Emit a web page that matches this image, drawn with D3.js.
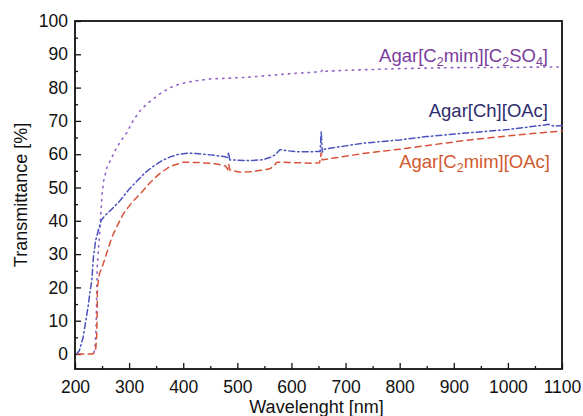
<!DOCTYPE html>
<html>
<head>
<meta charset="utf-8">
<script src="https://cdn.jsdelivr.net/npm/d3@7"></script>
<style>
  html, body { margin: 0; padding: 0; background: #fff; }
  svg { display: block; font-family: "Liberation Sans", Arial, Helvetica, sans-serif; }
</style>
</head>
<body>
<div id="chart"></div>
<script>
// wavelength [nm], transmittance [%]
const c2so4Points = [
  [235, 0.5], [237, 2], [239, 8], [240, 17], [241, 26], [244, 33], [246, 37], [248, 43],
  [250, 48], [253, 52], [259, 56], [268, 59], [277, 62], [287, 64.5], [296, 66.5],
  [307, 70], [320, 73], [332, 75], [344, 76.5], [360, 78.5], [376, 80], [392, 81],
  [407, 81.6], [430, 82.2], [450, 82.6], [480, 82.8], [518, 83.1], [555, 83.6],
  [600, 84.2], [640, 84.6], [655, 84.8], [658, 85.5], [662, 84.9], [700, 85.2],
  [800, 85.7], [900, 86], [1000, 86.1], [1100, 86.2]
];
const chOacPoints = [
  [203, 0], [208, 1], [215, 5], [220, 10], [224, 14], [228, 19], [231, 22], [234, 29],
  [238, 34], [243, 37], [248, 40], [255, 41.5], [268, 43.5], [283, 46], [300, 49.5],
  [315, 52], [330, 54.5], [344, 56.3], [360, 58], [376, 59.2], [392, 60], [407, 60.3],
  [425, 60.2], [450, 59.8], [475, 59.3], [482, 59], [484, 60.5], [486, 58.3],
  [500, 58.2], [523, 58.1], [545, 58.3], [560, 59], [570, 59.8], [579, 61.4],
  [595, 61], [610, 60.7], [653, 60.8], [655, 66.8], [657, 60.5], [660, 61.5],
  [671, 61.8], [700, 62.5], [732, 63.3], [800, 64.3], [850, 65.3], [924, 66.4],
  [1000, 67.4], [1065, 68.7], [1075, 69], [1085, 68.4], [1100, 68.6]
];
const c2mimOacPoints = [
  [205, 0], [233, 0], [238, 1], [240, 5], [241, 12], [241.5, 20], [245, 24], [252, 27],
  [260, 31], [268, 35], [278, 38.5], [289, 42], [305, 45.5], [320, 48], [339, 51.5],
  [355, 54], [375, 56.3], [400, 57.6], [430, 57.5], [460, 57.1], [478, 56.5],
  [482, 55.5], [484, 57], [486, 55.3], [505, 54.6], [523, 54.7], [545, 55.2],
  [560, 55.6], [568, 56.5], [573, 57.6], [600, 57.5], [640, 57.3], [652, 57.4],
  [655, 60.5], [657, 58.3], [700, 59.4], [732, 60.2], [800, 61.5], [860, 62.8],
  [924, 64.2], [1000, 65.5], [1100, 67]
];

const xMajorTicks = d3.range(200, 1101, 100);
const xMinorTicks = d3.range(250, 1100, 100);
const yMajorTicks = d3.range(0, 101, 10);
const yMinorTicks = d3.range(5, 100, 10);

const width = 583, height = 416;
const margin = { top: 21, right: 21, bottom: 47, left: 75 };

const svg = d3.select("#chart").append("svg")
  .attr("width", width)
  .attr("height", height);

const x = d3.scaleLinear().domain([200, 1100]).range([margin.left, width - margin.right]);
const y = d3.scaleLinear().domain([-4.5, 100]).range([height - margin.bottom, margin.top]);

const x0 = x.range()[0], x1 = x.range()[1];
const y0 = y.range()[0], y1 = y.range()[1];

// minor ticks first
svg.append("g")
  .attr("transform", `translate(0,${y0})`)
  .call(d3.axisBottom(x).tickValues(xMinorTicks).tickSize(-3).tickFormat(""))
  .call(g => g.select(".domain").remove());
svg.append("g")
  .attr("transform", `translate(${x0},0)`)
  .call(d3.axisLeft(y).tickValues(yMinorTicks).tickSize(-3).tickFormat(""))
  .call(g => g.select(".domain").remove());

const xAxis = svg.append("g")
  .attr("transform", `translate(0,${y0})`)
  .call(d3.axisBottom(x).tickValues(xMajorTicks).tickSize(-6).tickPadding(12).tickFormat(d3.format("d")))
  .call(g => g.select(".domain").remove());
const yAxis = svg.append("g")
  .attr("transform", `translate(${x0},0)`)
  .call(d3.axisLeft(y).tickValues(yMajorTicks).tickSize(-6).tickPadding(7))
  .call(g => g.select(".domain").remove());

[xAxis, yAxis].forEach(g => {
  g.selectAll("text").attr("fill", "#111").style("font-size", "17.5px");
});
svg.selectAll(".tick line").attr("stroke", "#111").attr("stroke-width", 1.3);

// frame
svg.append("rect")
  .attr("x", x0).attr("y", y1)
  .attr("width", x1 - x0).attr("height", y0 - y1)
  .attr("fill", "none")
  .attr("stroke", "#111")
  .attr("stroke-width", 1.8);

const line = d3.line().x(d => x(d[0])).y(d => y(d[1]));

const series = [
  { pts: c2so4Points, color: "#9262c6", dash: "1.4,5.2", w: 1.6 },
  { pts: chOacPoints, color: "#4a52bd", dash: "6,3,1.5,3", w: 1.5 },
  { pts: c2mimOacPoints, color: "#d9533b", dash: "6,4.5", w: 1.5 }
];

svg.append("g").selectAll("path")
  .data(series)
  .join("path")
  .attr("d", d => line(d.pts))
  .attr("fill", "none")
  .attr("stroke", d => d.color)
  .attr("stroke-width", d => d.w)
  .attr("stroke-dasharray", d => d.dash)
  .attr("stroke-linecap", "round");

// series labels; parts alternate between normal text and subscripts
function label(parts, xEnd, yBase, color) {
  const t = svg.append("text")
    .attr("x", xEnd).attr("y", yBase)
    .attr("text-anchor", "end")
    .attr("fill", color)
    .style("font-size", "18.5px");
  let shifted = 0;
  parts.forEach(p => {
    const target = p.sub ? 4 : 0;
    t.append("tspan")
      .attr("dy", target - shifted)
      .style("font-size", p.sub ? "12.5px" : null)
      .text(p.s);
    shifted = target;
  });
}
label([{ s: "Agar[C" }, { s: "2", sub: true }, { s: "mim][C" }, { s: "2", sub: true }, { s: "SO" }, { s: "4", sub: true }, { s: "]" }],
  548, 62, "#7a3c9c");
label([{ s: "Agar[Ch][OAc]" }], 548, 117, "#2e2c6e");
label([{ s: "Agar[C" }, { s: "2", sub: true }, { s: "mim][OAc]" }], 550, 168, "#d2592f");

// axis titles
svg.append("text")
  .attr("x", (x0 + x1) / 2 - 2).attr("y", 413)
  .attr("text-anchor", "middle")
  .attr("fill", "#111")
  .style("font-size", "18px")
  .text("Wavelenght [nm]");

svg.append("text")
  .attr("transform", `translate(27,${(y0 + y1) / 2}) rotate(-90)`)
  .attr("text-anchor", "middle")
  .attr("fill", "#111")
  .style("font-size", "18px")
  .text("Transmittance [%]");
</script>
</body>
</html>
